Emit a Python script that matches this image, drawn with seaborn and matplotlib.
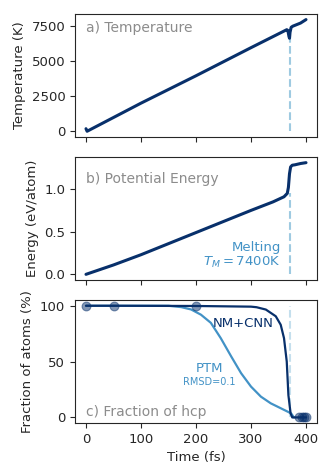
import numpy as np
import matplotlib
matplotlib.use('Agg')
import matplotlib.pyplot as plt
import seaborn as sns

sns.set_style('ticks')
plt.rcParams['font.family'] = ['DejaVu Sans']
plt.rcParams['font.size'] = 9.5
plt.rcParams['xtick.labelsize'] = 9.5
plt.rcParams['ytick.labelsize'] = 9.5
plt.rcParams['axes.labelsize'] = 9.5

NAVY = '#08306b'
BLUE = '#4292c6'
PALE = '#9ecae1'
GRAY = '#8c8c8c'

# panel a: temperature (K)
temp_time = [0, 2, 5, 100, 200, 300, 365, 367, 369, 370, 371, 373, 376, 390, 400]
temp_vals = [180, 0, 60, 2000, 3950, 5950, 7230, 7180, 6750, 6620, 7050, 7400, 7480, 7700, 7950]

# panel b: potential energy (eV/atom)
energy_time = [0, 50, 100, 150, 200, 250, 300, 340, 360, 366, 368, 370, 372, 375, 380, 390, 400]
energy_vals = [0.0, 0.11, 0.23, 0.36, 0.49, 0.62, 0.75, 0.85, 0.91, 0.95, 1.02, 1.18, 1.26, 1.28, 1.285, 1.30, 1.31]

# panel c: fraction of hcp atoms (%)
cnn_time = [0, 50, 200, 300, 310, 327, 345, 354, 360, 365, 368, 372, 375, 390, 400]
cnn_vals = [100, 100, 99.8, 99.2, 98.7, 96.6, 90.6, 83, 71, 50, 20, 3.6, 0, 0, 0]
cnn_pts_time = [0, 50, 200, 388, 393, 397, 400]
cnn_pts_vals = [100, 100, 100, 0, 0, 0, 0]

ptm_time = [0, 150, 173, 191, 209, 227, 245, 264, 282, 300, 318, 336, 355, 373, 378]
ptm_vals = [100, 100, 98.8, 96.7, 92, 84.7, 71, 54.6, 39.6, 27.6, 18.6, 12.6, 8, 3.6, 0]

melt_time = 370

fig, axes = plt.subplots(3, 1, figsize=(3.32, 4.74), dpi=100, sharex=True)
fig.subplots_adjust(left=75/332, right=317/332, top=1-14/474, bottom=1-423/474, hspace=0.165)

ax = axes[0]
sns.lineplot(x=temp_time, y=temp_vals, ax=ax, color=NAVY, lw=2.2)
ax.plot([melt_time, melt_time], [0, 7100], ls='--', color=PALE, lw=1.5, zorder=0)
ax.set_ylabel('Temperature (K)')
ax.set_yticks([0, 2500, 5000, 7500])
ax.text(0.045, 0.885, 'a) Temperature', transform=ax.transAxes, color=GRAY,
        fontsize=10, va='center')

ax = axes[1]
sns.lineplot(x=energy_time, y=energy_vals, ax=ax, color=NAVY, lw=2.2)
ax.plot([melt_time, melt_time], [0, 0.96], ls='--', color=PALE, lw=1.5, zorder=0)
ax.set_ylabel('Energy (eV/atom)')
ax.set_yticks([0.0, 0.5, 1.0])
ax.text(0.045, 0.82, 'b) Potential Energy', transform=ax.transAxes, color=GRAY,
        fontsize=10, va='center')
ax.text(354, 0.22, 'Melting\n$T_M = 7400$K', color=BLUE, ha='right', va='center',
        fontsize=9.5, linespacing=1.1)

ax = axes[2]
ax.plot([melt_time, melt_time], [0, 100], ls='--', color=PALE, lw=1.5, alpha=0.6, zorder=0)
sns.lineplot(x=ptm_time, y=ptm_vals, ax=ax, color=BLUE, lw=1.6)
sns.lineplot(x=cnn_time, y=cnn_vals, ax=ax, color=NAVY, lw=1.6)
sns.scatterplot(x=cnn_pts_time, y=cnn_pts_vals, ax=ax, color=NAVY, alpha=0.5, s=40,
                edgecolor=NAVY, linewidth=0.8, zorder=3)
ax.set_ylabel('Fraction of atoms (%)')
ax.set_xlabel('Time (fs)')
ax.set_yticks([0, 50, 100])
ax.set_xticks([0, 100, 200, 300, 400])
ax.text(285, 84, 'NM+CNN', color=NAVY, ha='center', va='center', fontsize=9.5)
ax.text(224, 44, 'PTM', color=BLUE, ha='center', va='center', fontsize=9.5)
ax.text(224, 32, 'RMSD=0.1', color=BLUE, ha='center', va='center', fontsize=7)
ax.text(0.045, 0.09, 'c) Fraction of hcp', transform=ax.transAxes, color=GRAY,
        fontsize=10, va='center')

for a in axes:
    a.set_xlim(-20, 420)

fig.savefig('out.png', dpi=100)
